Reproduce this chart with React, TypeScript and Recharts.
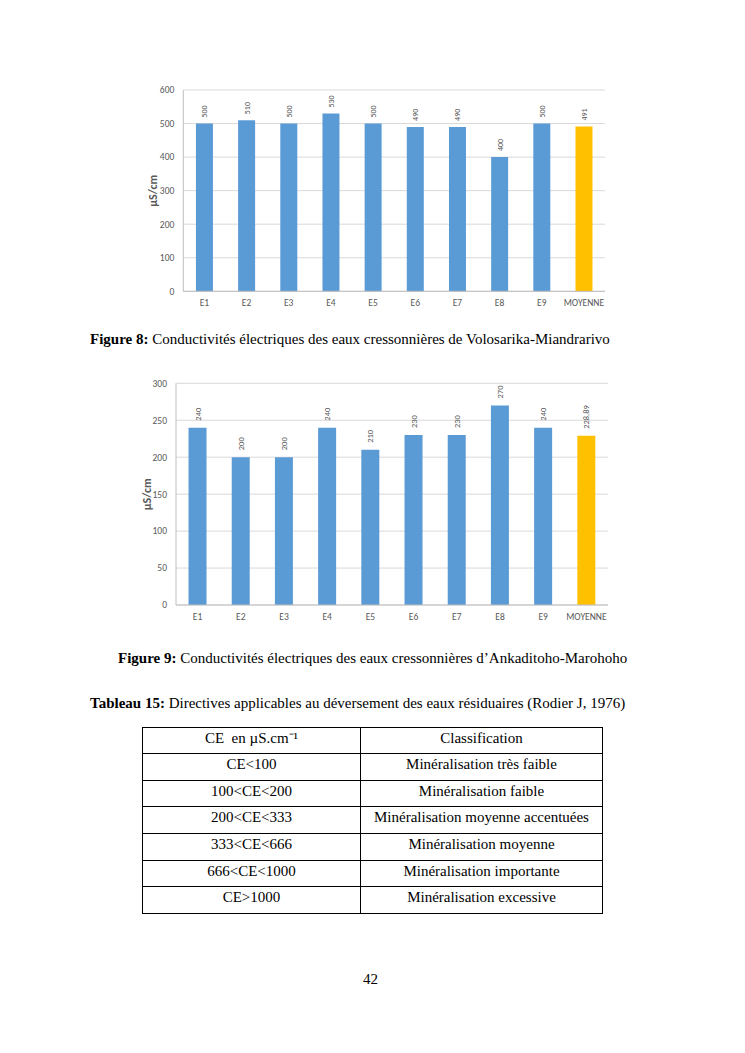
import React from "react";
import { BarChart, Bar, XAxis, YAxis, CartesianGrid, Cell, LabelList, Label } from "recharts";

const stations = ["E1", "E2", "E3", "E4", "E5", "E6", "E7", "E8", "E9", "MOYENNE"];
const volosarika = [500, 510, 500, 530, 500, 490, 490, 400, 500, 491];
const ankaditoho = [240, 200, 200, 240, 210, 230, 230, 270, 240, 228.89];
const volosarikaTicks = [0, 100, 200, 300, 400, 500, 600];
const ankaditohoTicks = [0, 50, 100, 150, 200, 250, 300];

const classes = ["CE<100", "100<CE<200", "200<CE<333", "333<CE<666", "666<CE<1000", "CE>1000"];
const classLabels = [
  "Minéralisation très faible",
  "Minéralisation faible",
  "Minéralisation moyenne accentuées",
  "Minéralisation moyenne",
  "Minéralisation importante",
  "Minéralisation excessive",
];

const BLUE = "#5B9BD5";
const GOLD = "#FFC000";
const TEXT = "#595959";
const SANS = "Carlito, 'Liberation Sans', Arial, sans-serif";
const SERIF = "'Liberation Serif', 'Times New Roman', serif";

const fmt = (v: any) => String(v).replace(".", ",");

function ValueLabel(props: any) {
  const { x, y, width, value, gap, size } = props;
  const cx = Number(x) + Number(width) / 2;
  const ty = Number(y) - gap;
  return (
    <text
      x={cx}
      y={ty}
      transform={`rotate(-90 ${cx} ${ty})`}
      textAnchor="start"
      dominantBaseline="central"
      fontSize={size}
      fontFamily={SANS}
      fill={TEXT}
    >
      {fmt(value)}
    </text>
  );
}

function AxisTitle(props: any) {
  const { viewBox, dx } = props;
  const tx = viewBox.x + dx;
  const ty = viewBox.y + viewBox.height / 2;
  return (
    <text
      x={tx}
      y={ty}
      transform={`rotate(-90 ${tx} ${ty})`}
      textAnchor="middle"
      dominantBaseline="central"
      fontSize={12}
      fontWeight="bold"
      fontFamily={SANS}
      fill={TEXT}
    >
      µS/cm
    </text>
  );
}

interface PanelProps {
  values: number[];
  ticks: number[];
  left: number;
  top: number;
  width: number;
  height: number;
  margin: { top: number; right: number; left: number; bottom: number };
  axisWidth: number;
  gapPct: string;
  titleDx: number;
  labelSize: number;
  labelGap: number;
  xMargin: number;
}

function Panel(p: PanelProps) {
  const data = stations.map((s, i) => ({ station: s, value: p.values[i] }));
  const max = p.ticks[p.ticks.length - 1];
  return (
    <div style={{ position: "absolute", left: p.left, top: p.top }}>
      <BarChart width={p.width} height={p.height} data={data} margin={p.margin} barCategoryGap={p.gapPct}>
        <CartesianGrid vertical={false} stroke="#d9d9d9" />
        <XAxis
          dataKey="station"
          interval={0}
          height={20}
          tickSize={0}
          tickMargin={p.xMargin}
          axisLine={{ stroke: "#bfbfbf" }}
          tick={{ fontSize: 9.5, fill: TEXT, fontFamily: SANS }}
        />
        <YAxis
          domain={[0, max]}
          ticks={p.ticks}
          width={p.axisWidth}
          tickSize={0}
          tickMargin={9}
          axisLine={{ stroke: "#bfbfbf" }}
          tick={{ fontSize: 9.5, fill: TEXT, fontFamily: SANS }}
        >
          <Label content={(lp: any) => <AxisTitle {...lp} dx={p.titleDx} />} />
        </YAxis>
        <Bar dataKey="value" isAnimationActive={false}>
          {data.map((d, i) => (
            <Cell key={d.station} fill={i === data.length - 1 ? GOLD : BLUE} />
          ))}
          <LabelList
            dataKey="value"
            content={(lp: any) => <ValueLabel {...lp} gap={p.labelGap} size={p.labelSize} />}
          />
        </Bar>
      </BarChart>
    </div>
  );
}

const caption = (top: number, left: number, bold: string, rest: string) => (
  <div
    style={{
      position: "absolute",
      top,
      left,
      fontFamily: SERIF,
      fontSize: 15,
      lineHeight: "15px",
      color: "#000",
      whiteSpace: "nowrap",
    }}
  >
    <b>{bold}</b> {rest}
  </div>
);

const cell: React.CSSProperties = {
  border: "1px solid #000",
  textAlign: "center",
  verticalAlign: "top",
  padding: "2px 0 0 0",
  height: 26.6,
  lineHeight: "17px",
  boxSizing: "border-box",
};

export default function App() {
  return (
    <div style={{ position: "absolute", left: 0, top: 0, width: 745, height: 1053, background: "#fff" }}>
      <Panel
        values={volosarika}
        ticks={volosarikaTicks}
        left={140}
        top={80}
        width={475}
        height={235}
        margin={{ top: 10, right: 10, left: 0, bottom: 3.7 }}
        axisWidth={43.3}
        gapPct="30%"
        titleDx={13}
        labelSize={8}
        labelGap={6}
        xMargin={8}
      />
      {caption(332.4, 90, "Figure 8:", "Conductivités électriques des eaux cressonnières de Volosarika-Miandrarivo")}

      <Panel
        values={ankaditoho}
        ticks={ankaditohoTicks}
        left={130}
        top={370}
        width={490}
        height={260}
        margin={{ top: 13.3, right: 12, left: 0, bottom: 5 }}
        axisWidth={46}
        gapPct="29%"
        titleDx={17}
        labelSize={8.5}
        labelGap={7}
        xMargin={8.6}
      />
      {caption(651.4, 118, "Figure 9:", "Conductivités électriques des eaux cressonnières d\u2019Ankaditoho-Marohoho")}
      {caption(696.4, 90, "Tableau 15:", "Directives applicables au déversement des eaux résiduaires (Rodier J, 1976)")}

      <table
        style={{
          position: "absolute",
          left: 142,
          top: 726.7,
          width: 461,
          borderCollapse: "collapse",
          fontFamily: SERIF,
          fontSize: 15,
          color: "#000",
        }}
      >
        <tbody>
          <tr>
            <td style={{ ...cell, width: 218 }}>CE&nbsp; en µS.cm⁻¹</td>
            <td style={cell}>Classification</td>
          </tr>
          {classes.map((c, i) => (
            <tr key={c}>
              <td style={cell}>{c}</td>
              <td style={cell}>{classLabels[i]}</td>
            </tr>
          ))}
        </tbody>
      </table>

      <div
        style={{
          position: "absolute",
          top: 972.4,
          left: 0,
          width: 741,
          textAlign: "center",
          fontFamily: SERIF,
          fontSize: 15,
          lineHeight: "15px",
        }}
      >
        42
      </div>
    </div>
  );
}
